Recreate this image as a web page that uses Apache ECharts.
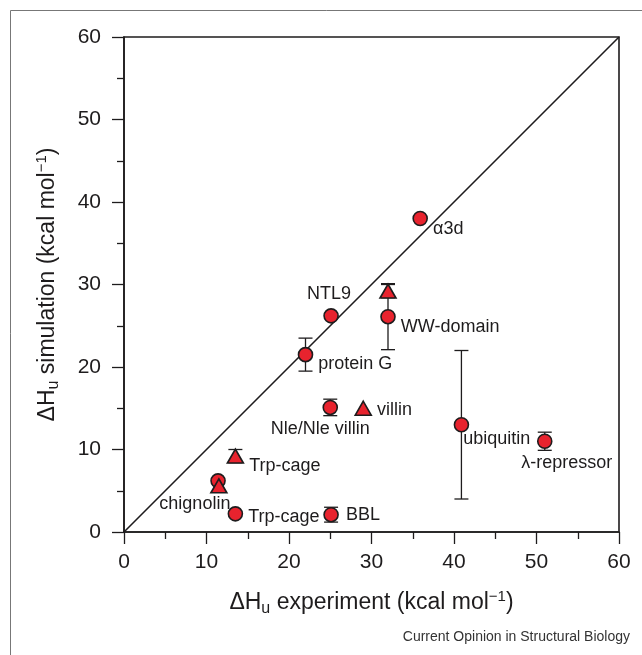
<!DOCTYPE html>
<html>
<head>
<meta charset="utf-8">
<script src="https://cdn.jsdelivr.net/npm/echarts@6/dist/echarts.min.js"></script>
<style>
html,body{margin:0;padding:0;background:#fff;}
#chart{width:642px;height:655px;}
</style>
</head>
<body>
<div id="chart"></div>
<script>
// ---- data ----
var axisTicks = [0, 10, 20, 30, 40, 50, 60];
var diagonal = [0, 60];

var circleNames = ['α3d', 'NTL9', 'WW-domain', 'protein G', 'Nle/Nle villin', 'ubiquitin', 'λ-repressor', 'chignolin', 'Trp-cage', 'BBL'];
var circleExp   = [35.9, 25.1, 32.0, 22.0, 25.0, 40.9, 51.0, 11.4, 13.5, 25.1];
var circleSim   = [38.0, 26.2, 26.1, 21.5, 15.1, 13.0, 11.0, 6.2, 2.2, 2.1];
var circleErr   = [0, 0, 4.0, 2.0, 1.0, 9.0, 1.1, 0, 0, 0.9];
var circleLabel = ['α3d', 'NTL9', 'WW-domain', 'protein G', 'Nle/Nle villin', 'ubiquitin', 'λ-repressor', '', 'Trp-cage', 'BBL'];

var triNames = ['WW-domain', 'villin', 'Trp-cage', 'chignolin'];
var triExp   = [32.0, 29.0, 13.5, 11.5];
var triSim   = [29.2, 15.0, 9.2, 5.6];
var triErr   = [0.8, 0, 0.8, 0];
var triLabel = ['', 'villin', 'Trp-cage', 'chignolin'];

// ---- label placement (style) ----
var circleLabelStyle = {
  'α3d': {position: 'right', offset: [0, 11]},
  'NTL9': {position: 'top', offset: [-2, 0]},
  'WW-domain': {position: 'right', offset: [0, 10]},
  'protein G': {position: 'right', offset: [0, 9]},
  'Nle/Nle villin': {position: 'bottom', offset: [-10, 0]},
  'ubiquitin': {position: 'right', offset: [-11, 14]},
  'λ-repressor': {position: 'bottom', offset: [22, 0]},
  'Trp-cage': {position: 'right', offset: [0, 3]},
  'BBL': {position: 'right', offset: [2, 0]}
};
var triLabelStyle = {
  'villin': {position: 'right', offset: [0, 2]},
  'Trp-cage': {position: 'right', offset: [0, 10]},
  'chignolin': {position: 'bottom', offset: [-24, -4]}
};

var FONT = '"Liberation Sans", Arial, Helvetica, sans-serif';
var RED = '#e8232e';
var INK = '#1e1c1d';

function buildPoints(xs, ys, labels, styles) {
  return xs.map(function (x, i) {
    var item = {value: [x, ys[i]]};
    var t = labels[i];
    if (t) {
      var s = styles[t];
      item.label = {show: true, formatter: t, position: s.position, offset: s.offset};
    }
    return item;
  });
}
function buildErr(xs, ys, es) {
  var out = [];
  xs.forEach(function (x, i) { if (es[i] > 0) out.push([x, ys[i], es[i]]); });
  return out;
}

var errData = buildErr(circleExp, circleSim, circleErr).concat(buildErr(triExp, triSim, triErr));

var titleRich = {
  a: {fontSize: 23, lineHeight: 28, fontFamily: FONT, color: INK},
  s: {fontSize: 16, lineHeight: 16, verticalAlign: 'bottom', fontFamily: FONT, color: INK},
  p: {fontSize: 15, lineHeight: 15, verticalAlign: 'top', fontFamily: FONT, color: INK}
};

var chart = echarts.init(document.getElementById('chart'), null, {renderer: 'canvas'});
var axisCommon = {
  type: 'value',
  min: axisTicks[0],
  max: axisTicks[axisTicks.length - 1],
  interval: axisTicks[1] - axisTicks[0],
  nameLocation: 'middle',
  axisLine: {show: true, onZero: false, lineStyle: {color: INK, width: 1.6}},
  axisTick: {show: true, inside: false, length: 12, lineStyle: {color: INK, width: 1.3}},
  minorTick: {show: true, splitNumber: 2, length: 7, lineStyle: {color: INK, width: 1.3}},
  splitLine: {show: false},
  minorSplitLine: {show: false},
  axisLabel: {fontSize: 21, color: INK, fontFamily: FONT}
};

chart.setOption({
  animation: false,
  backgroundColor: '#fff',
  grid: {left: 124, right: 23, top: 37, bottom: 123, show: true, borderColor: INK, borderWidth: 1.6, backgroundColor: 'transparent'},
  xAxis: Object.assign({}, axisCommon, {
    name: '{a|ΔH}{s|u}{a| experiment (kcal mol}{p|−1}{a|)}',
    nameGap: 57,
    nameTextStyle: {rich: titleRich},
    axisLabel: Object.assign({}, axisCommon.axisLabel, {margin: 20})
  }),
  yAxis: Object.assign({}, axisCommon, {
    name: '{a|ΔH}{s|u}{a| simulation (kcal mol}{p|−1}{a|)}',
    nameGap: 62,
    nameRotate: 90,
    nameTextStyle: {rich: titleRich},
    axisLabel: Object.assign({}, axisCommon.axisLabel, {margin: 23})
  }),
  graphic: [
    {type: 'rect', shape: {x: 10.5, y: 10.5, width: 720, height: 720}, style: {fill: 'none', stroke: '#777', lineWidth: 1}, z: -1, silent: true},
    {type: 'text', right: 12, top: 630, style: {text: 'Current Opinion in Structural Biology', fontSize: 14, fontFamily: FONT, fill: '#333'}}
  ],
  series: [
    {
      type: 'line',
      data: [[diagonal[0], diagonal[0]], [diagonal[1], diagonal[1]]],
      showSymbol: false,
      symbol: 'none',
      lineStyle: {color: INK, width: 1.6},
      z: 1,
      silent: true
    },
    {
      type: 'custom',
      data: errData,
      z: 2,
      renderItem: function (params, api) {
        var x = api.value(0), y = api.value(1), e = api.value(2);
        var top = api.coord([x, y + e]);
        var bot = api.coord([x, y - e]);
        var hw = 7;
        var st = {stroke: INK, lineWidth: 1.3};
        return {
          type: 'group',
          children: [
            {type: 'line', shape: {x1: top[0], y1: top[1], x2: bot[0], y2: bot[1]}, style: st},
            {type: 'line', shape: {x1: top[0] - hw, y1: top[1], x2: top[0] + hw, y2: top[1]}, style: st},
            {type: 'line', shape: {x1: bot[0] - hw, y1: bot[1], x2: bot[0] + hw, y2: bot[1]}, style: st}
          ]
        };
      }
    },
    {
      type: 'scatter',
      data: buildPoints(circleExp, circleSim, circleLabel, circleLabelStyle),
      symbol: 'circle',
      symbolSize: 14,
      itemStyle: {color: RED, borderColor: INK, borderWidth: 1.6, opacity: 1},
      label: {show: false, fontSize: 18, color: INK, fontFamily: FONT},
      z: 3
    },
    {
      type: 'scatter',
      data: buildPoints(triExp, triSim, triLabel, triLabelStyle),
      symbol: 'triangle',
      symbolSize: [16, 14],
      itemStyle: {color: RED, borderColor: INK, borderWidth: 1.6, opacity: 1},
      label: {show: false, fontSize: 18, color: INK, fontFamily: FONT},
      z: 4
    }
  ]
});
</script>
</body>
</html>
